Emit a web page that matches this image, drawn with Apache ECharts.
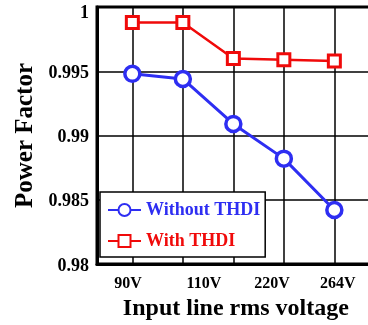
<!DOCTYPE html>
<html>
<head>
<meta charset="utf-8">
<script src="https://cdn.jsdelivr.net/npm/echarts@6/dist/echarts.min.js"></script>
<style>
  html, body { margin: 0; padding: 0; background: #ffffff; }
  #chart { width: 368px; height: 325px; }
</style>
</head>
<body>
<div id="chart"></div>
<script>
// Measurement points (index along the voltage sweep)
const pointIndex = [1, 2, 3, 4, 5];
const withoutTHDI = [0.9948, 0.9944, 0.9909, 0.9882, 0.9842];
const withTHDI = [0.9988, 0.9988, 0.9960, 0.9959, 0.9958];

// Voltage tick labels and where they sit along the sweep axis
const voltageLabels = ['90V', '110V', '220V', '264V'];
const voltageLabelPos = [0.913, 2.418, 3.764, 5.07];

// Power factor axis ticks
const pfTicks = [0.98, 0.985, 0.99, 0.995, 1];

const serif = '"Liberation Serif", "DejaVu Serif", serif';
const blue = '#2e2ef2';
const red = '#f00a0a';

const chart = echarts.init(document.getElementById('chart'), null, { renderer: 'canvas' });

chart.setOption({
  animation: false,
  backgroundColor: '#ffffff',
  grid: {
    left: 97,
    top: 7,
    width: 277.75,
    height: 257,
    outerBoundsMode: 'none',
    containLabel: false,
    show: true,
    borderColor: '#000',
    borderWidth: 3,
    backgroundColor: 'transparent'
  },
  xAxis: {
    type: 'value',
    min: 0.3,
    max: 5.8,
    name: 'Input line rms voltage',
    nameLocation: 'middle',
    nameGap: 30,
    nameTextStyle: { fontFamily: serif, fontWeight: 'bold', fontSize: 24, color: '#000' },
    axisLine: { show: true, onZero: false, lineStyle: { color: '#000', width: 3 } },
    axisTick: { show: false, customValues: pointIndex },
    splitLine: { show: true, lineStyle: { color: '#000', width: 1.5 } },
    axisLabel: {
      customValues: voltageLabelPos,
      margin: 12,
      fontFamily: serif,
      fontWeight: 'bold',
      fontSize: 16,
      color: '#000',
      formatter: function (v) {
        let best = 0;
        for (let i = 0; i < voltageLabelPos.length; i++) {
          if (Math.abs(voltageLabelPos[i] - v) < Math.abs(voltageLabelPos[best] - v)) best = i;
        }
        return voltageLabels[best];
      }
    }
  },
  yAxis: {
    type: 'value',
    min: pfTicks[0],
    max: pfTicks[pfTicks.length - 1],
    interval: 0.005,
    name: 'Power Factor',
    nameLocation: 'middle',
    nameGap: 53,
    nameTextStyle: { fontFamily: serif, fontWeight: 'bold', fontSize: 25, color: '#000' },
    axisLine: { show: true, lineStyle: { color: '#000', width: 3 } },
    axisTick: { show: false },
    splitLine: { show: true, lineStyle: { color: '#000', width: 1.5 } },
    axisLabel: {
      margin: 8,
      padding: [4, 0, 0, 0],
      fontFamily: serif,
      fontWeight: 'bold',
      fontSize: 18,
      color: '#000',
      formatter: function (v) {
        const s = String(parseFloat(v.toFixed(3)));
        // keep the top label inside the canvas
        return v >= pfTicks[pfTicks.length - 1] ? '{top|' + s + '}' : s;
      },
      rich: {
        top: {
          fontFamily: serif,
          fontWeight: 'bold',
          fontSize: 18,
          color: '#000',
          padding: [8, 0, 0, 0]
        }
      }
    }
  },
  legend: {
    orient: 'vertical',
    left: 100,
    top: 192,
    padding: [9, 5, 7, 7],
    itemWidth: 33,
    itemHeight: 15,
    itemGap: 13,
    backgroundColor: '#ffffff',
    borderColor: '#000',
    borderWidth: 1.5,
    borderRadius: 0,
    textStyle: { fontFamily: serif, fontWeight: 'bold', fontSize: 18 },
    data: [
      { name: 'Without THDI', textStyle: { color: blue } },
      { name: 'With THDI', textStyle: { color: red } }
    ]
  },
  series: [
    {
      name: 'Without THDI',
      type: 'line',
      data: pointIndex.map((x, i) => [x, withoutTHDI[i]]),
      symbol: 'circle',
      symbolSize: 15,
      lineStyle: { color: blue, width: 3 },
      itemStyle: { color: '#ffffff', borderColor: blue, borderWidth: 3.5 },
      z: 3
    },
    {
      name: 'With THDI',
      type: 'line',
      data: pointIndex.map((x, i) => [x, withTHDI[i]]),
      symbol: 'rect',
      symbolSize: 12,
      lineStyle: { color: red, width: 2.5 },
      itemStyle: { color: '#ffffff', borderColor: red, borderWidth: 3 },
      z: 3
    }
  ]
});
</script>
</body>
</html>
